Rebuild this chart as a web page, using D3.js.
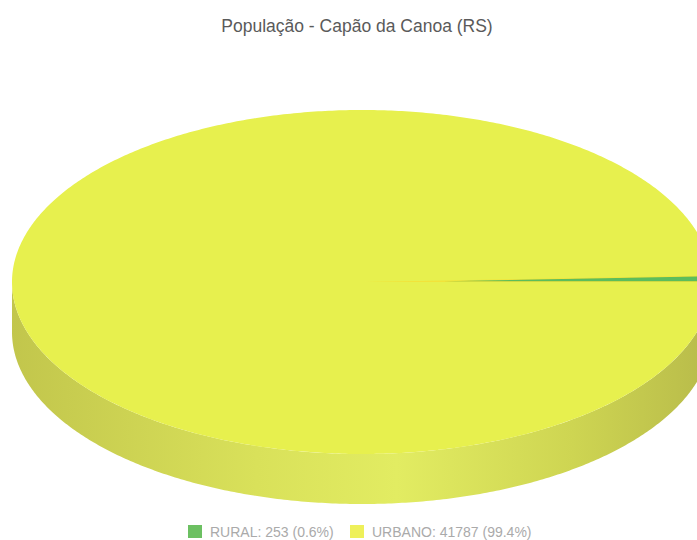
<!DOCTYPE html>
<html><head><meta charset="utf-8">
<script src="https://cdn.jsdelivr.net/npm/d3@7"></script>
<style>html,body{margin:0;padding:0;background:#fff;}svg{display:block;}</style>
</head><body>
<script>
const title = "População - Capão da Canoa (RS)";
const categories = ["RURAL", "URBANO"];
const values = [253, 41787];
const percentLabels = ["0.6%", "99.4%"];
const colors = ["#5cbd5c", "#e7f04e"];

const W = 697, H = 540;
const cx = 362, cy = 282, rx = 350, ry = 172, depth = 50;

const svg = d3.select("body").append("svg").attr("width", W).attr("height", H);

const defs = svg.append("defs");
const grad = defs.append("linearGradient").attr("id", "side").attr("x1", "0").attr("x2", "1").attr("y1", "0").attr("y2", "0");
grad.append("stop").attr("offset", "0%").attr("stop-color", "#c2c64c");
grad.append("stop").attr("offset", "35%").attr("stop-color", "#d9e15a");
grad.append("stop").attr("offset", "55%").attr("stop-color", "#e2ec62");
grad.append("stop").attr("offset", "80%").attr("stop-color", "#ced552");
grad.append("stop").attr("offset", "100%").attr("stop-color", "#b8bb4a");

const pie = d3.pie().sort(null).startAngle(Math.PI / 2).endAngle(Math.PI / 2 - 2 * Math.PI);
const arcs = pie(values);

const px = a => cx + rx * Math.sin(a);
const py = a => cy - ry * Math.cos(a);

function topPath(d) {
  const n = Math.max(4, Math.ceil(Math.abs(d.endAngle - d.startAngle) / 0.01));
  const pts = d3.range(n + 1).map(i => {
    const a = d.startAngle + (d.endAngle - d.startAngle) * i / n;
    return [px(a), py(a)];
  });
  return "M" + cx + "," + cy + "L" + pts.map(p => p.join(",")).join("L") + "Z";
}

function sidePath(d) {
  let a0 = Math.min(d.startAngle, d.endAngle), a1 = Math.max(d.startAngle, d.endAngle);
  const segs = [];
  for (let k = -2; k <= 2; k++) {
    const f0 = Math.PI / 2 + k * 2 * Math.PI, f1 = 3 * Math.PI / 2 + k * 2 * Math.PI;
    const s = Math.max(a0, f0), e = Math.min(a1, f1);
    if (e > s) segs.push([s, e]);
  }
  return segs.map(([s, e]) => {
    const n = Math.max(4, Math.ceil((e - s) / 0.01));
    const up = d3.range(n + 1).map(i => { const a = s + (e - s) * i / n; return [px(a), py(a)]; });
    const down = up.slice().reverse().map(p => [p[0], p[1] + depth]);
    return "M" + up.map(p => p.join(",")).join("L") + "L" + down.map(p => p.join(",")).join("L") + "Z";
  }).join("");
}

svg.append("g").selectAll("path").data(arcs).join("path")
  .attr("d", sidePath).attr("fill", "url(#side)");

svg.append("g").selectAll("path").data(arcs).join("path")
  .attr("d", topPath)
  .attr("fill", (d, i) => colors[i])
  .attr("stroke", (d, i) => i === 0 ? "#f2e33a" : "none")
  .attr("stroke-width", 1.5)
  .attr("stroke-linejoin", "round");

svg.append("text").attr("x", 357).attr("y", 32).attr("text-anchor", "middle")
  .attr("font-family", "Liberation Sans, Arial, sans-serif").attr("font-size", 17.5).attr("fill", "#5a5a5a")
  .text(title);

const legendX = [188, 350];
const lg = svg.append("g").selectAll("g").data(categories).join("g")
  .attr("transform", (d, i) => `translate(${legendX[i]},525)`);
lg.append("rect").attr("width", 14).attr("height", 13).attr("fill", (d, i) => i === 0 ? "#6cc062" : "#eef05a");
lg.append("text").attr("x", 22).attr("y", 12)
  .attr("font-family", "Liberation Sans, Arial, sans-serif").attr("font-size", 14).attr("fill", "#aaaaaa")
  .text((d, i) => `${d}: ${values[i]} (${percentLabels[i]})`);
</script>
</body></html>
